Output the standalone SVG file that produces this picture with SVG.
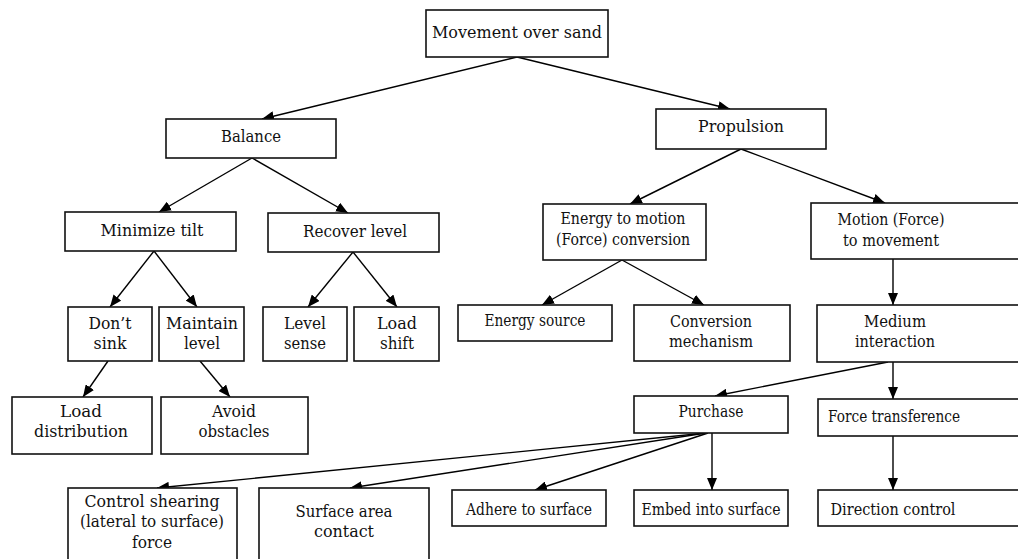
<svg xmlns="http://www.w3.org/2000/svg" width="1018" height="559" viewBox="0 0 1018 559">
<defs>
<marker id="ah" markerUnits="userSpaceOnUse" markerWidth="13" markerHeight="10" refX="12" refY="5" orient="auto">
<path d="M0,0 L12,5 L0,10 z" fill="#000"/>
</marker>
<style>
rect{fill:#fff;stroke:#111;stroke-width:1.6}
text{font-family:'DejaVu Serif','Liberation Serif',serif;font-size:16.5px;fill:#111;text-anchor:middle}
#connectors line{stroke:#000;stroke-width:1.4;marker-end:url(#ah)}
</style>
</defs>
<rect x="0" y="0" width="1018" height="559" style="fill:#fff;stroke:none"/>
<g id="connectors">
<line x1="517" y1="57" x2="262" y2="119"/>
<line x1="517" y1="57" x2="730" y2="109"/>
<line x1="252" y1="158" x2="159" y2="212"/>
<line x1="252" y1="158" x2="348" y2="213"/>
<line x1="154" y1="251" x2="110" y2="307"/>
<line x1="154" y1="251" x2="197" y2="307"/>
<line x1="353" y1="252" x2="308" y2="307"/>
<line x1="353" y1="252" x2="397" y2="307"/>
<line x1="108" y1="361" x2="83" y2="397"/>
<line x1="200" y1="361" x2="230" y2="397"/>
<line x1="741" y1="149" x2="630" y2="204"/>
<line x1="741" y1="149" x2="885" y2="203"/>
<line x1="622" y1="260" x2="542" y2="305"/>
<line x1="622" y1="260" x2="704" y2="305"/>
<line x1="893" y1="259" x2="893" y2="305"/>
<line x1="888" y1="362" x2="715" y2="396"/>
<line x1="893" y1="362" x2="893" y2="399"/>
<line x1="893" y1="436" x2="893" y2="490"/>
<line x1="706" y1="433" x2="157" y2="488"/>
<line x1="706" y1="433" x2="350" y2="488"/>
<line x1="708" y1="433" x2="535" y2="490"/>
<line x1="712" y1="433" x2="712" y2="490"/>
</g>
<g id="n-root"><rect x="426" y="10" width="182" height="47"/><text x="517" y="38" textLength="170" lengthAdjust="spacingAndGlyphs">Movement over sand</text></g>
<g id="n-balance"><rect x="166" y="119" width="170" height="39"/><text x="251" y="142" textLength="60" lengthAdjust="spacingAndGlyphs">Balance</text></g>
<g id="n-propulsion"><rect x="656" y="109" width="170" height="40"/><text x="741" y="132" textLength="86" lengthAdjust="spacingAndGlyphs">Propulsion</text></g>
<g id="n-minimize"><rect x="65" y="212" width="171" height="39"/><text x="152" y="236" textLength="103" lengthAdjust="spacingAndGlyphs">Minimize tilt</text></g>
<g id="n-recover"><rect x="268" y="213" width="171" height="39"/><text x="355" y="237" textLength="104" lengthAdjust="spacingAndGlyphs">Recover level</text></g>
<g id="n-dontsink"><rect x="68" y="307" width="84" height="54"/><text x="110" y="329" textLength="43" lengthAdjust="spacingAndGlyphs">Don’t</text><text x="110" y="349" textLength="33" lengthAdjust="spacingAndGlyphs">sink</text></g>
<g id="n-maintain"><rect x="159" y="307" width="85" height="54"/><text x="202" y="329" textLength="72" lengthAdjust="spacingAndGlyphs">Maintain</text><text x="202" y="349" textLength="36" lengthAdjust="spacingAndGlyphs">level</text></g>
<g id="n-levelsense"><rect x="263" y="307" width="84" height="54"/><text x="305" y="329" textLength="42" lengthAdjust="spacingAndGlyphs">Level</text><text x="305" y="349" textLength="42" lengthAdjust="spacingAndGlyphs">sense</text></g>
<g id="n-loadshift"><rect x="354" y="307" width="85" height="54"/><text x="397" y="329" textLength="40" lengthAdjust="spacingAndGlyphs">Load</text><text x="397" y="349" textLength="34" lengthAdjust="spacingAndGlyphs">shift</text></g>
<g id="n-loaddist"><rect x="12" y="397" width="140" height="57"/><text x="81" y="417" textLength="42" lengthAdjust="spacingAndGlyphs">Load</text><text x="81" y="437" textLength="94" lengthAdjust="spacingAndGlyphs">distribution</text></g>
<g id="n-avoid"><rect x="161" y="397" width="147" height="57"/><text x="234" y="417" textLength="44" lengthAdjust="spacingAndGlyphs">Avoid</text><text x="234" y="437" textLength="71" lengthAdjust="spacingAndGlyphs">obstacles</text></g>
<g id="n-energymotion"><rect x="543" y="204" width="163" height="56"/><text x="623" y="224" textLength="125" lengthAdjust="spacingAndGlyphs">Energy to motion</text><text x="623" y="245" textLength="134" lengthAdjust="spacingAndGlyphs">(Force) conversion</text></g>
<g id="n-motionforce"><rect x="811" y="203" width="215" height="56"/><text x="891" y="225" textLength="107" lengthAdjust="spacingAndGlyphs">Motion (Force)</text><text x="891" y="246" textLength="96" lengthAdjust="spacingAndGlyphs">to movement</text></g>
<g id="n-energysource"><rect x="458" y="305" width="154" height="36"/><text x="535" y="326" textLength="101" lengthAdjust="spacingAndGlyphs">Energy source</text></g>
<g id="n-conversion"><rect x="634" y="305" width="156" height="56"/><text x="711" y="327" textLength="82" lengthAdjust="spacingAndGlyphs">Conversion</text><text x="711" y="347" textLength="84" lengthAdjust="spacingAndGlyphs">mechanism</text></g>
<g id="n-medium"><rect x="817" y="305" width="209" height="57"/><text x="895" y="327" textLength="62" lengthAdjust="spacingAndGlyphs">Medium</text><text x="895" y="347" textLength="80" lengthAdjust="spacingAndGlyphs">interaction</text></g>
<g id="n-purchase"><rect x="634" y="396" width="154" height="37"/><text x="711" y="417" textLength="65" lengthAdjust="spacingAndGlyphs">Purchase</text></g>
<g id="n-forcetrans"><rect x="818" y="399" width="208" height="37"/><text x="894" y="422" textLength="132" lengthAdjust="spacingAndGlyphs">Force transference</text></g>
<g id="n-shearing"><rect x="68" y="488" width="169" height="80"/><text x="152" y="507" textLength="135" lengthAdjust="spacingAndGlyphs">Control shearing</text><text x="152" y="527" textLength="144" lengthAdjust="spacingAndGlyphs">(lateral to surface)</text><text x="152" y="548" textLength="40" lengthAdjust="spacingAndGlyphs">force</text></g>
<g id="n-surfacearea"><rect x="259" y="488" width="170" height="80"/><text x="344" y="517" textLength="97" lengthAdjust="spacingAndGlyphs">Surface area</text><text x="344" y="537" textLength="60" lengthAdjust="spacingAndGlyphs">contact</text></g>
<g id="n-adhere"><rect x="452" y="490" width="154" height="36"/><text x="529" y="515" textLength="126" lengthAdjust="spacingAndGlyphs">Adhere to surface</text></g>
<g id="n-embed"><rect x="634" y="490" width="154" height="36"/><text x="711" y="515" textLength="139" lengthAdjust="spacingAndGlyphs">Embed into surface</text></g>
<g id="n-direction"><rect x="818" y="490" width="208" height="36"/><text x="893" y="515" textLength="125" lengthAdjust="spacingAndGlyphs">Direction control</text></g>
</svg>
